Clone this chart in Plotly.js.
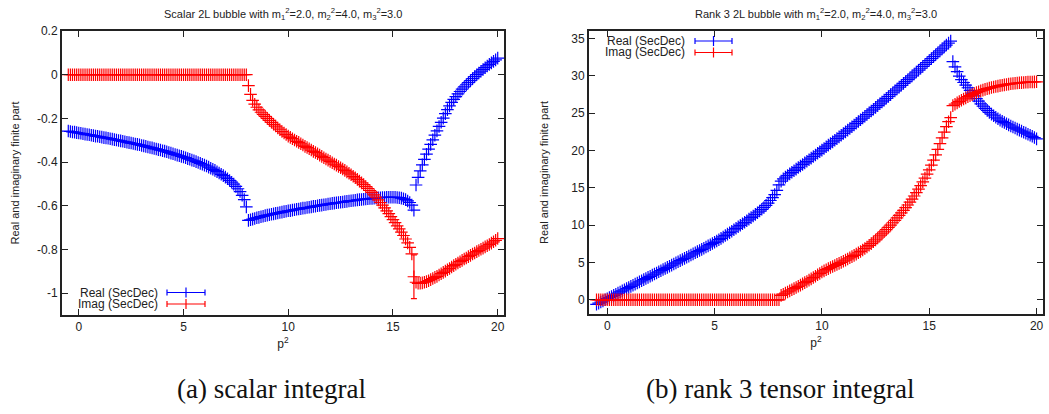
<!DOCTYPE html>
<html><head><meta charset="utf-8">
<script src="https://cdn.plot.ly/plotly-3.0.1.min.js"></script>
<style>html,body{margin:0;padding:0;background:#fff}#chart{width:1049px;height:414px}</style>
</head><body><div id="chart"></div><script>
// p^2 sample points (step 0.1 from -0.5 to 20)
const p2 = [-0.5,-0.4,-0.3,-0.2,-0.1,0,0.1,0.2,0.3,0.4,0.5,0.6,0.7,0.8,0.9,1,1.1,1.2,1.3,1.4,1.5,1.6,1.7,1.8,1.9,2,2.1,2.2,2.3,2.4,2.5,2.6,2.7,2.8,2.9,3,3.1,3.2,3.3,3.4,3.5,3.6,3.7,3.8,3.9,4,4.1,4.2,4.3,4.4,4.5,4.6,4.7,4.8,4.9,5,5.1,5.2,5.3,5.4,5.5,5.6,5.7,5.8,5.9,6,6.1,6.2,6.3,6.4,6.5,6.6,6.7,6.8,6.9,7,7.1,7.2,7.3,7.4,7.5,7.6,7.7,7.8,7.9,8,
 8.1,8.2,8.3,8.4,8.5,8.6,8.7,8.8,8.9,9,9.1,9.2,9.3,9.4,9.5,9.6,9.7,9.8,9.9,10,10.1,10.2,10.3,10.4,10.5,10.6,10.7,10.8,10.9,11,11.1,11.2,11.3,11.4,11.5,11.6,11.7,11.8,11.9,12,12.1,12.2,12.3,12.4,12.5,12.6,12.7,12.8,12.9,13,13.1,13.2,13.3,13.4,13.5,13.6,13.7,13.8,13.9,14,14.1,14.2,14.3,14.4,14.5,14.6,14.7,14.8,14.9,15,15.1,15.2,15.3,15.4,15.5,15.6,15.7,15.8,15.9,16,
 16.1,16.2,16.3,16.4,16.5,16.6,16.7,16.8,16.9,17,17.1,17.2,17.3,17.4,17.5,17.6,17.7,17.8,17.9,18,18.1,18.2,18.3,18.4,18.5,18.6,18.7,18.8,18.9,19,19.1,19.2,19.3,19.4,19.5,19.6,19.7,19.8,19.9,20];

// (a) scalar integral
const scalarReal = [-0.258,-0.260,-0.262,-0.263,-0.265,-0.267,-0.268,-0.270,-0.272,-0.274,-0.275,-0.277,-0.279,-0.281,-0.282,-0.284,-0.286,-0.288,-0.289,-0.291,-0.293,-0.295,-0.297,-0.299,-0.301,-0.303,-0.305,-0.307,-0.309,-0.311,-0.313,-0.315,-0.317,-0.319,-0.321,-0.324,-0.326,-0.328,-0.331,-0.333,-0.335,-0.338,-0.340,-0.343,-0.345,-0.348,-0.350,-0.353,-0.356,-0.359,-0.362,-0.365,-0.368,-0.371,-0.374,-0.377,-0.380,-0.384,-0.387,-0.391,-0.394,-0.398,-0.402,-0.406,-0.410,-0.414,-0.418,-0.423,-0.428,-0.433,-0.438,-0.444,-0.450,-0.456,-0.462,-0.469,-0.476,-0.484,-0.492,-0.501,-0.511,-0.522,-0.535,-0.552,-0.572,-0.605,
 -0.667,-0.664,-0.661,-0.658,-0.655,-0.653,-0.650,-0.648,-0.645,-0.643,-0.641,-0.639,-0.637,-0.635,-0.633,-0.631,-0.629,-0.627,-0.625,-0.623,-0.622,-0.620,-0.618,-0.616,-0.615,-0.613,-0.611,-0.610,-0.608,-0.607,-0.605,-0.603,-0.602,-0.600,-0.598,-0.597,-0.595,-0.594,-0.592,-0.591,-0.589,-0.588,-0.586,-0.585,-0.584,-0.583,-0.581,-0.580,-0.578,-0.577,-0.576,-0.575,-0.573,-0.572,-0.571,-0.570,-0.569,-0.568,-0.567,-0.566,-0.565,-0.564,-0.563,-0.563,-0.562,-0.562,-0.561,-0.561,-0.561,-0.561,-0.561,-0.562,-0.563,-0.565,-0.568,-0.572,-0.578,-0.585,-0.597,-0.620,
 -0.505,-0.470,-0.440,-0.413,-0.388,-0.364,-0.341,-0.319,-0.298,-0.277,-0.257,-0.237,-0.218,-0.199,-0.178,-0.160,-0.143,-0.127,-0.113,-0.100,-0.088,-0.077,-0.066,-0.056,-0.046,-0.036,-0.027,-0.018,-0.009,0.000,0.008,0.016,0.024,0.032,0.040,0.047,0.054,0.061,0.068,0.076];
const scalarImag = [0,0,0,0,0,0,0,0,0,0,0,0,0,0,0,0,0,0,0,0,0,0,0,0,0,0,0,0,0,0,0,0,0,0,0,0,0,0,0,0,0,0,0,0,0,0,0,0,0,0,0,0,0,0,0,0,0,0,0,0,0,0,0,0,0,0,0,0,0,0,0,0,0,0,0,0,0,0,0,0,0,0,0,0,0,0,
 -0.050,-0.090,-0.118,-0.135,-0.149,-0.161,-0.172,-0.182,-0.191,-0.200,-0.209,-0.218,-0.227,-0.235,-0.244,-0.252,-0.260,-0.267,-0.274,-0.281,-0.287,-0.293,-0.299,-0.305,-0.310,-0.316,-0.322,-0.328,-0.333,-0.339,-0.345,-0.351,-0.356,-0.362,-0.368,-0.374,-0.380,-0.386,-0.391,-0.397,-0.403,-0.409,-0.414,-0.420,-0.426,-0.432,-0.438,-0.445,-0.451,-0.458,-0.465,-0.472,-0.479,-0.487,-0.495,-0.503,-0.512,-0.521,-0.530,-0.539,-0.550,-0.561,-0.573,-0.585,-0.597,-0.610,-0.623,-0.636,-0.650,-0.663,-0.677,-0.692,-0.706,-0.721,-0.736,-0.752,-0.770,-0.790,-0.820,-0.925,
 -0.950,-0.955,-0.955,-0.953,-0.950,-0.947,-0.943,-0.938,-0.933,-0.928,-0.923,-0.917,-0.911,-0.905,-0.899,-0.893,-0.887,-0.880,-0.874,-0.868,-0.862,-0.856,-0.850,-0.844,-0.839,-0.833,-0.827,-0.821,-0.816,-0.810,-0.805,-0.799,-0.794,-0.788,-0.783,-0.777,-0.771,-0.765,-0.758,-0.750];
const scalarImagErrAt = [16];
const scalarImagErrVal = [0.1];

// (b) rank 3 tensor integral
const rank3Real = [-0.60,-0.45,-0.30,-0.15,0.00,0.15,0.30,0.45,0.60,0.75,0.90,1.05,1.20,1.35,1.50,1.65,1.80,1.95,2.10,2.25,2.40,2.55,2.70,2.85,3.00,3.15,3.30,3.45,3.60,3.75,3.90,4.05,4.20,4.35,4.50,4.65,4.80,4.95,5.10,5.25,5.40,5.55,5.70,5.85,6.00,6.15,6.30,6.45,6.60,6.76,6.91,7.07,7.22,7.38,7.54,7.70,7.87,8.05,8.23,8.42,8.61,8.80,8.99,9.18,9.38,9.58,9.78,9.98,10.18,10.38,10.59,10.80,11.01,11.22,11.44,11.66,11.89,12.12,12.37,12.65,12.95,13.30,13.68,14.10,14.65,15.40,
 15.90,16.20,16.43,16.65,16.87,17.08,17.29,17.50,17.71,17.92,18.13,18.34,18.55,18.76,18.97,19.19,19.40,19.62,19.83,20.05,20.27,20.49,20.71,20.93,21.15,21.37,21.59,21.82,22.04,22.27,22.49,22.72,22.95,23.18,23.41,23.64,23.87,24.11,24.34,24.58,24.81,25.05,25.29,25.53,25.77,26.01,26.25,26.50,26.74,26.99,27.23,27.48,27.73,27.98,28.23,28.48,28.73,28.98,29.23,29.48,29.73,29.99,30.24,30.50,30.75,31.01,31.26,31.52,31.78,32.04,32.30,32.56,32.82,33.08,33.34,33.60,33.86,34.12,34.38,34.65,
 31.90,31.20,30.55,29.95,29.50,29.10,28.75,28.40,28.04,27.68,27.31,26.95,26.60,26.25,25.94,25.65,25.37,25.10,24.87,24.65,24.45,24.25,24.07,23.90,23.74,23.58,23.43,23.28,23.14,23.00,22.86,22.72,22.59,22.45,22.32,22.18,22.04,21.90,21.73,21.55];
const rank3Imag = [0,0,0,0,0,0,0,0,0,0,0,0,0,0,0,0,0,0,0,0,0,0,0,0,0,0,0,0,0,0,0,0,0,0,0,0,0,0,0,0,0,0,0,0,0,0,0,0,0,0,0,0,0,0,0,0,0,0,0,0,0,0,0,0,0,0,0,0,0,0,0,0,0,0,0,0,0,0,0,0,0,0,0,0,0,0,
 0.60,0.75,0.90,1.05,1.20,1.35,1.50,1.65,1.81,1.97,2.13,2.30,2.46,2.63,2.80,2.98,3.16,3.35,3.53,3.72,3.88,4.03,4.18,4.32,4.46,4.60,4.74,4.88,5.02,5.17,5.32,5.47,5.63,5.79,5.95,6.12,6.30,6.48,6.67,6.87,7.08,7.30,7.53,7.77,8.02,8.28,8.55,8.83,9.11,9.40,9.70,10.00,10.32,10.64,10.97,11.30,11.64,11.98,12.34,12.70,13.08,13.48,13.90,14.35,14.82,15.30,15.80,16.30,16.84,17.40,18.03,18.70,19.40,20.15,20.92,21.70,22.45,23.20,23.85,24.40,
 26.00,26.20,26.38,26.55,26.73,26.90,27.05,27.20,27.34,27.48,27.62,27.75,27.87,27.98,28.08,28.18,28.27,28.35,28.43,28.50,28.56,28.62,28.68,28.74,28.79,28.84,28.89,28.93,28.97,29.00,29.03,29.06,29.09,29.11,29.13,29.15,29.17,29.18,29.19,29.20];

const xTickVals = [0,5,10,15,20];
const xTickText = ['0','5','10','15','20'];
const scalarYTickVals = [0.2,0,-0.2,-0.4,-0.6,-0.8,-1];
const scalarYTickText = ['0.2','0','-0.2','-0.4','-0.6','-0.8','-1'];
const rank3YTickVals = [0,5,10,15,20,25,30,35];
const rank3YTickText = ['0','5','10','15','20','25','30','35'];
const seriesNames = ['Real (SecDec)','Imag (SecDec)'];
const titles = ['Scalar 2L bubble with m<sub>1</sub><sup>2</sup>=2.0, m<sub>2</sub><sup>2</sup>=4.0, m<sub>3</sub><sup>2</sup>=3.0',
                'Rank 3 2L bubble with m<sub>1</sub><sup>2</sup>=2.0, m<sub>2</sub><sup>2</sup>=4.0, m<sub>3</sub><sup>2</sup>=3.0'];
const captions = ['(a) scalar integral','(b) rank 3 tensor integral'];

// ---- layout helpers (pixel -> paper) ----
const W = 1049, H = 414, ML = 62, MR = 6, MT = 31, MB = 99;
const PW = W - ML - MR, PH = H - MT - MB;
const PX = x => (x - ML) / PW;
const PY = y => (H - MB - y) / PH;

const BLUE = '#0000ff', RED = '#ff0000', INK = '#222222';
const FONT = '"Liberation Sans", Arial, sans-serif';

const scalarErr = p2.map(x => { const k = scalarImagErrAt.indexOf(x); return k >= 0 ? scalarImagErrVal[k] : NaN; });

function mk(x, y, color, xa, ya, err) {
  const t = {
    x: x, y: y, type: 'scatter', mode: 'markers', xaxis: xa, yaxis: ya, showlegend: false,
    marker: {symbol: 'cross-thin-open', size: 9, color: color, line: {color: color, width: 1.2}},
    hoverinfo: 'x+y'
  };
  if (err) t.error_y = {type: 'data', array: err, visible: true, color: color, thickness: 1.2, width: 3};
  return t;
}

const data = [
  mk(p2, scalarReal, BLUE, 'x', 'y'),
  mk(p2, scalarImag, RED, 'x', 'y', scalarErr),
  mk(p2, rank3Real, BLUE, 'x2', 'y2'),
  mk(p2, rank3Imag, RED, 'x2', 'y2')
];

function xax(domain, anchor, range) {
  return {domain: domain, anchor: anchor, range: range, tickmode: 'array', tickvals: xTickVals, ticktext: xTickText,
    ticks: 'inside', ticklen: 6, tickwidth: 1, tickcolor: INK, showline: true, linecolor: INK, linewidth: 2, mirror: 'ticks',
    showgrid: false, zeroline: false, tickfont: {family: FONT, size: 12, color: INK},
    title: {text: 'p<sup>2</sup>', font: {family: FONT, size: 12, color: INK}, standoff: 6}};
}
function yax(domain, range, tv, tt, anchor, standoff) {
  return {domain: domain, anchor: anchor, range: range, tickmode: 'array', tickvals: tv, ticktext: tt,
    ticks: 'inside', ticklen: 6, tickwidth: 1, tickcolor: INK, showline: true, linecolor: INK, linewidth: 2, mirror: 'ticks',
    showgrid: false, zeroline: false, tickfont: {family: FONT, size: 12, color: INK},
    title: {text: 'Real and imaginary finite part', font: {family: FONT, size: 11, color: INK}, standoff: standoff}};
}

const annotations = [];
const shapes = [];
// subplot titles
[[283, titles[0]], [816, titles[1]]].forEach(([cx, t]) => annotations.push({
  xref: 'paper', yref: 'paper', x: PX(cx), y: PY(14), text: t, showarrow: false, xanchor: 'center', yanchor: 'middle',
  font: {family: FONT, size: 11, color: INK}}));
// captions
[[271, captions[0]], [780, captions[1]]].forEach(([cx, t]) => annotations.push({
  xref: 'paper', yref: 'paper', x: PX(cx), y: PY(389), text: t, showarrow: false, xanchor: 'center', yanchor: 'middle',
  font: {family: '"Liberation Serif", "Times New Roman", serif', size: 27, color: '#111'}}));
// gnuplot-style keys
function key(textRight, x0, x1, rows) {
  rows.forEach(([yy, name, color]) => {
    annotations.push({xref: 'paper', yref: 'paper', x: PX(textRight), y: PY(yy), text: name, showarrow: false,
      xanchor: 'right', yanchor: 'middle', font: {family: FONT, size: 12, color: INK}});
    const L = (a, b, c, d) => shapes.push({type: 'line', xref: 'paper', yref: 'paper', x0: PX(a), y0: PY(b), x1: PX(c), y1: PY(d),
      line: {color: color, width: 1.2}});
    L(x0, yy, x1, yy);
    L(x0, yy - 3, x0, yy + 3);
    L(x1, yy - 3, x1, yy + 3);
    const cx = (x0 + x1) / 2;
    L(cx, yy - 5, cx, yy + 5);
  });
}
key(160, 167, 205, [[292.5, seriesNames[0], BLUE], [304, seriesNames[1], RED]]);
key(687, 695, 732, [[41, seriesNames[0], BLUE], [52.5, seriesNames[1], RED]]);

const layout = {
  width: W, height: H, margin: {l: ML, r: MR, t: MT, b: MB},
  paper_bgcolor: '#fff', plot_bgcolor: '#fff', showlegend: false,
  xaxis: xax([PX(62), PX(504)], 'y', [-0.8, 20.3]),
  yaxis: yax([PY(315), PY(31)], [-1.1, 0.2], scalarYTickVals, scalarYTickText, 'x', 15),
  xaxis2: xax([PX(589), PX(1043)], 'y2', [-0.85, 20.3]),
  yaxis2: yax([PY(314), PY(31)], [-1.9, 36], rank3YTickVals, rank3YTickText, 'x2', 20),
  annotations: annotations, shapes: shapes
};

Plotly.newPlot('chart', data, layout, {staticPlot: true, displayModeBar: false});
</script></body></html>
